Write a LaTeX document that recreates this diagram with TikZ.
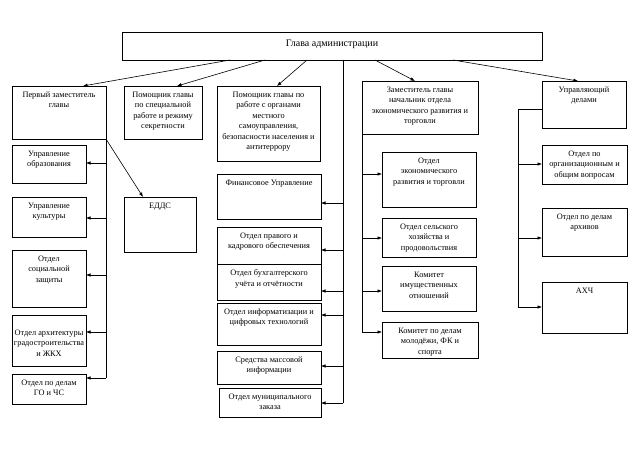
\documentclass[tikz,border=0pt]{standalone}
\usepackage{fontspec}
\setmainfont{Liberation Serif}
\usetikzlibrary{arrows.meta,calc}
\tikzset{
  boxst/.style={draw=black, line width=0.7pt, fill=white, inner sep=0pt, outer sep=0pt},
  txtst/.style={inner sep=0pt, align=center, font=\fontsize{8.3}{10.5}\selectfont},
  ln/.style={draw=black, line width=0.6pt},
  arr/.style={ln, -{Latex[length=4.5pt,width=3.5pt]}}
}
\newcommand\orgbox[6]{%
  \node[boxst, anchor=north west, minimum width={#4-#2}, minimum height={#5-#3}] (#1) at (#2,#3) {};
  \node[txtst, anchor=north] (#1t) at ([yshift=-5.5pt]#1.north) {#6};
}
\begin{document}
\begin{tikzpicture}[x=1pt,y=-1pt]
\useasboundingbox[fill=white] (0,0) rectangle (640,452);
% head
\node[boxst, anchor=north west, minimum width=420, minimum height=28] (head) at (122,32) {};
\node[txtst, font=\fontsize{10}{12}\selectfont] (headt) at (332,44) {Глава администрации};
% top row
\orgbox{fd}{12}{86}{106}{139}{Первый заместитель\\главы}
\orgbox{ps}{124}{86}{202}{139}{Помощник главы\\по специальной\\работе и режиму\\секретности}
\orgbox{pm}{217}{86}{320}{161}{Помощник главы по\\работе с органами\\местного\\самоуправления,\\безопасности населения и\\антитеррору}
\orgbox{ze}{362}{81}{478}{134}{Заместитель главы\\начальник отдела\\экономического развития и\\торговли}
\orgbox{ud}{542}{81}{626}{128}{Управляющий\\делами}
% left column
\orgbox{edu}{12}{145}{86}{183}{Управление\\образования}
\orgbox{cul}{12}{197}{86}{237}{Управление\\культуры}
\orgbox{soc}{12}{250}{86}{307}{Отдел\\социальной\\защиты}
\node[boxst, anchor=north west, minimum width=74, minimum height=51] (arch) at (12,315) {};
\node[txtst] (archt) at (49,343) {Отдел архитектуры\\градостроительства\\и ЖКХ};
\orgbox{go}{12}{374}{86}{404}{Отдел по делам\\ГО и ЧС}
\orgbox{edds}{124}{197}{196}{252}{ЕДДС}
% middle column
\orgbox{fin}{217}{174}{321}{219}{Финансовое Управление}
\orgbox{prav}{217}{227}{321}{264}{Отдел правого и\\кадрового обеспечения}
\orgbox{buh}{217}{264}{321}{300}{Отдел бухгалтерского\\учёта и отчётности}
\orgbox{inf}{217}{303}{321}{345}{Отдел информатизации и\\цифровых технологий}
\orgbox{smi}{217}{351}{321}{384}{Средства массовой\\информации}
\orgbox{mz}{219}{388}{321}{417}{Отдел муниципального\\заказа}
% right-middle column
\orgbox{er}{382}{152}{476}{207}{Отдел\\экономического\\развития и торговли}
\orgbox{sh}{382}{218}{476}{257}{Отдел сельского\\хозяйства и\\продовольствия}
\orgbox{io}{382}{266}{476}{311}{Комитет\\имущественных\\отношений}
\orgbox{mol}{382}{322}{478}{358}{Комитет по делам\\молодёжи, ФК и\\спорта}
% right column
\orgbox{org}{542}{145}{627}{184}{Отдел по\\организационным и\\общим вопросам}
\orgbox{arh}{542}{208}{627}{256}{Отдел по делам\\архивов}
\orgbox{ahc}{542}{282}{627}{333}{АХЧ}
% head arrows
\draw[arr] (head.south west -| 230,0) -- (fd.north west -| 83,0);
\draw[arr] (head.south west -| 265,0) -- (ps.north west -| 177,0);
\draw[arr] (head.south west -| 307,0) -- (pm.north west -| 277,0);
\draw[arr] (head.south west -| 375,0) -- (ze.north west -| 415,0);
\draw[arr] (head.south west -| 453,0) -- (ud.north west -| 578,0);
% left bus
\coordinate (lb) at (fd.south east);
\draw[ln] (lb) -- (106,378);
\draw[arr] (106,163) -- (edu.east |- 0,163);
\draw[arr] (106,218) -- (cul.east |- 0,218);
\draw[arr] (106,275) -- (soc.east |- 0,275);
\draw[arr] (106,332) -- (arch.east |- 0,332);
\draw[arr] (106,378) -- (go.east |- 0,378);
\draw[arr] (lb) -- (edds.north west -| 143,0);
% middle bus
\coordinate (mb) at (head.south west -| 343,0);
\draw[ln] (mb) -- (343,403);
\draw[arr] (343,203) -- (fin.east |- 0,203);
\draw[arr] (343,250) -- (prav.east |- 0,250);
\draw[arr] (343,291) -- (buh.east |- 0,291);
\draw[arr] (343,315) -- (inf.east |- 0,315);
\draw[arr] (343,366) -- (smi.east |- 0,366);
\draw[arr] (343,403) -- (mz.east |- 0,403);
% right-middle bus
\coordinate (rb) at (ze.south west);
\draw[ln] (rb) -- (362,332);
\draw[arr] (362,174) -- (er.west |- 0,174);
\draw[arr] (362,238) -- (sh.west |- 0,238);
\draw[arr] (362,291) -- (io.west |- 0,291);
\draw[arr] (362,332) -- (mol.west |- 0,332);
% right bus
\coordinate (ub) at (ud.west |- 0,109);
\draw[ln] (ub) -- (518,109) -- (518,307);
\draw[arr] (518,164) -- (org.west |- 0,164);
\draw[arr] (518,238) -- (arh.west |- 0,238);
\draw[arr] (518,307) -- (ahc.west |- 0,307);
\end{tikzpicture}
\end{document}
